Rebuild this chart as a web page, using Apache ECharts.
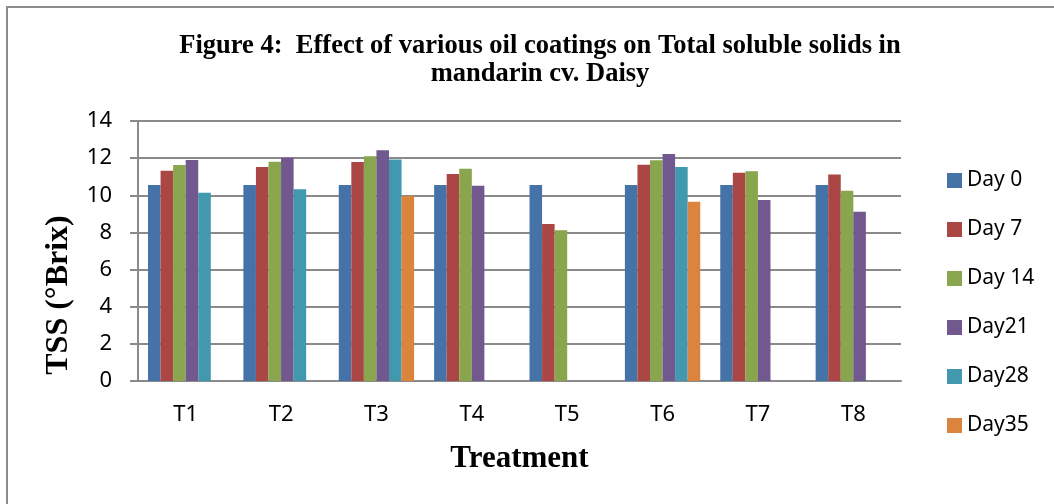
<!DOCTYPE html>
<html><head><meta charset="utf-8">
<script src="https://cdn.jsdelivr.net/npm/echarts@6/dist/echarts.min.js"></script>
<style>html,body{margin:0;padding:0;background:#fff}#c{width:1054px;height:504px}</style>
</head><body><div id="c"></div>
<script>
const categories = ['T1','T2','T3','T4','T5','T6','T7','T8'];
const seriesNames = ['Day 0','Day 7','Day 14','Day21','Day28','Day35'];
const day0  = [10.55, 10.55, 10.55, 10.55, 10.55, 10.55, 10.55, 10.55];
const day7  = [11.32, 11.52, 11.79, 11.14, 8.45, 11.65, 11.21, 11.12];
const day14 = [11.63, 11.81, 12.10, 11.43, 8.12, 11.88, 11.30, 10.24];
const day21 = [11.90, 12.02, 12.42, 10.51, null, 12.22, 9.74, 9.11];
const day28 = [10.14, 10.33, 11.93, null, null, 11.52, null, null];
const day35 = [null, null, 9.96, null, null, 9.65, null, null];
const colors = ['#4572A7','#AA4643','#89A54E','#71588F','#4198AF','#DB843D'];
const yTicks = [0,2,4,6,8,10,12,14];

const allData = [day0, day7, day14, day21, day28, day35];
const chart = echarts.init(document.getElementById('c'));
chart.setOption({
  animation: false,
  title: {
    text: 'Figure 4:  Effect of various oil coatings on Total soluble solids in\nmandarin cv. Daisy',
    left: 535, textAlign: 'center', top: 27,
    textStyle: {fontFamily: 'Liberation Serif', fontWeight: 'bold', fontSize: 26.5, lineHeight: 28, color: '#000'}
  },
  legend: {
    orient: 'vertical', left: 942, top: 165,
    itemWidth: 15, itemHeight: 15, itemGap: 28,
    icon: 'rect',
    textStyle: {fontFamily: 'Noto Sans', fontSize: 21, lineHeight: 20, color: '#000', padding: [0,0,0,0]},
    data: seriesNames
  },
  grid: {left: 138, right: 153, top: 121, bottom: 123},
  xAxis: {
    type: 'category', data: categories,
    axisLine: {lineStyle: {color: '#8a8a8a', width: 2}},
    axisTick: {show: false},
    axisLabel: {color: '#000', fontFamily: 'Noto Sans', fontSize: 22, margin: 23},
    name: 'Treatment', nameLocation: 'middle', nameGap: 62,
    nameTextStyle: {fontFamily: 'Liberation Serif', fontWeight: 'bold', fontSize: 31, color: '#000'}
  },
  yAxis: {
    type: 'value', min: 0, max: 14, interval: 2,
    axisLine: {show: true, lineStyle: {color: '#8a8a8a', width: 2}},
    axisTick: {show: true, length: 8, lineStyle: {color: '#8a8a8a', width: 2}},
    splitLine: {lineStyle: {color: '#8a8a8a', width: 2}},
    axisLabel: {color: '#000', fontFamily: 'Noto Sans', fontSize: 22, margin: 26,
      formatter: v => yTicks.includes(v) ? String(v) : ''}
  },
  graphic: [
    {type: 'rect', shape: {x: 7, y: 7, width: 1100, height: 600},
      style: {fill: 'none', stroke: '#8c8c8c', lineWidth: 2}, silent: true},
    {type: 'text', x: 59, y: 295, rotation: Math.PI / 2,
      style: {text: 'TSS (°Brix)', font: 'bold 32px "Liberation Serif"', fill: '#000',
        align: 'center', verticalAlign: 'middle'}}
  ],
  series: seriesNames.map((n, i) => ({
    name: n, type: 'bar', data: allData[i], barGap: '0%', barCategoryGap: '21%',
    itemStyle: {color: colors[i]}
  }))
});
</script></body></html>
